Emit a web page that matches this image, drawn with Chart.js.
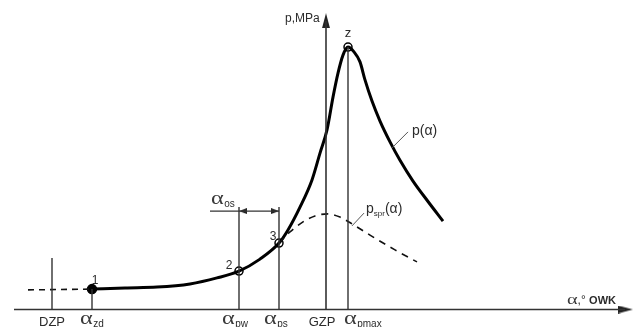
<!DOCTYPE html>
<html>
<head>
<meta charset="utf-8">
<script src="https://cdn.jsdelivr.net/npm/chart.js@4.4.0/dist/chart.umd.min.js"></script>
<style>
  html, body { margin: 0; padding: 0; background: #fff; }
  canvas { display: block; }
</style>
</head>
<body>
<canvas id="chart" width="636" height="327"></canvas>
<script>
// crank angle (deg, GZP = 0) and cylinder pressure (MPa)
const pAlpha = [-58.5, -50.25, -42.25, -34, -27.25, -21.75, -16.5, -11.75, -9.5, -6.5, -3.5, -1.5, 0.25, 1.75, 3, 4.25, 5.5, 7, 8.5, 9.75, 11.5, 13.5, 16, 18.5, 21.75, 25.5, 29.25];
const pValue = [0.51, 0.54, 0.56, 0.64, 0.79, 0.96, 1.26, 1.66, 1.99, 2.56, 3.24, 3.91, 4.49, 5.31, 5.91, 6.36, 6.56, 6.44, 6.19, 5.74, 5.21, 4.71, 4.19, 3.73, 3.21, 2.70, 2.21];

// compression-only pressure p_spr (dashed)
const sprAlpha = [-11.75, -9, -5.75, -2.75, 0.5, 3.5, 6.5, 11, 17.25, 22.75];
const sprValue = [1.66, 1.94, 2.19, 2.34, 2.39, 2.31, 2.14, 1.86, 1.49, 1.19];

// dashed lead-in before ignition
const leadAlpha = [-74.5, -58.5];
const leadValue = [0.49, 0.51];

// characteristic angles (vertical marks) and their heights
const markAlpha = [-68.5, -58.5, -21.75, -11.75, 0, 5.5];
const markTop = [1.29, 0.51, 2.56, 2.56, 7.41, 6.56];

// numbered points 1, 2, 3, z
const ptLabels = ['1', '2', '3', 'z'];
const ptAlpha = [-58.5, -21.75, -11.75, 5.5];
const ptValue = [0.51, 0.96, 1.66, 6.56];

// ignition advance alpha_os (from alpha_pw to alpha_ps)
const osAlpha = [-29, -11.75];
const osValue = 2.46;

// axes extent
const xAxisEnd = [-78, 76.75];
const yAxisEnd = 7.41;
const xMin = -81.5, xMax = 77.5, yMin = -0.4375, yMax = 7.7375;

const INK = '#111';
const AXIS = '#333';

function arrowImg(len, wid) {
  const c = document.createElement('canvas');
  c.width = wid; c.height = len;
  const g = c.getContext('2d');
  g.fillStyle = '#222';
  g.beginPath();
  g.moveTo(wid / 2, 0);
  g.lineTo(wid, len);
  g.lineTo(0, len);
  g.closePath();
  g.fill();
  return c;
}
const bigArrow = arrowImg(15, 8);
const smallArrow = arrowImg(8, 6);

const pts = (xs, ys) => xs.map((x, i) => ({ x, y: ys[i] }));
const seg = (x0, y0, x1, y1) => [{ x: x0, y: y0 }, { x: x1, y: y1 }];

const datasets = [];

// x axis line + arrow
datasets.push({ data: seg(xAxisEnd[0], 0, xAxisEnd[1] - 2, 0), borderColor: AXIS, borderWidth: 1.6, pointRadius: 0 });
datasets.push({ data: [{ x: xAxisEnd[1] - 1.9, y: 0 }], pointStyle: bigArrow, rotation: 90, pointRadius: 8, showLine: false });
// y axis line + arrow
datasets.push({ data: seg(0, 0, 0, yAxisEnd - 0.2), borderColor: AXIS, borderWidth: 1.6, pointRadius: 0 });
datasets.push({ data: [{ x: 0, y: yAxisEnd - 0.19 }], pointStyle: bigArrow, rotation: 0, pointRadius: 8, showLine: false });

// vertical marks (GZP coincides with the p axis)
markAlpha.forEach((a, i) => {
  if (a === 0) return;
  datasets.push({ data: seg(a, 0, a, markTop[i]), borderColor: AXIS, borderWidth: 1.4, pointRadius: 0 });
});

// alpha_os dimension line
datasets.push({ data: seg(osAlpha[0], osValue, osAlpha[1], osValue), borderColor: AXIS, borderWidth: 1.2, pointRadius: 0 });
datasets.push({ data: [{ x: -20.75, y: osValue }], pointStyle: smallArrow, rotation: -90, pointRadius: 4, showLine: false });
datasets.push({ data: [{ x: -12.75, y: osValue }], pointStyle: smallArrow, rotation: 90, pointRadius: 4, showLine: false });

// leader lines for curve labels
datasets.push({ data: seg(16.5, 4.04, 20.5, 4.44), borderColor: '#555', borderWidth: 1, pointRadius: 0 });
datasets.push({ data: seg(6.5, 2.09, 9.5, 2.41), borderColor: '#555', borderWidth: 1, pointRadius: 0 });

// dashed curves
datasets.push({ data: pts(leadAlpha, leadValue), borderColor: INK, borderWidth: 1.6, borderDash: [6, 5], pointRadius: 0 });
datasets.push({ data: pts(sprAlpha, sprValue), borderColor: INK, borderWidth: 1.6, borderDash: [7, 6], pointRadius: 0, cubicInterpolationMode: 'monotone' });

// main pressure curve
datasets.push({ data: pts(pAlpha, pValue), borderColor: '#000', borderWidth: 3, pointRadius: 0, cubicInterpolationMode: 'monotone' });

// points
datasets.push({
  data: pts(ptAlpha, ptValue), showLine: false,
  pointRadius: [4.5, 4, 4, 4],
  pointBackgroundColor: ['#000', '#fff', '#fff', '#fff'],
  pointBorderColor: '#000', pointBorderWidth: 1.5
});

datasets.forEach(d => { d.showLine = d.showLine !== false; d.clip = false; d.fill = false; });

// alpha labels: [subscript, x, y]
const alphaLabels = [
  ['zd', -61.5, -0.36],
  ['pw', -26, -0.36],
  ['ps', -15.5, -0.36],
  ['pmax', 4.5, -0.36],
  ['os', -28.75, 2.64]
];

const labelPlugin = {
  id: 'labels',
  afterDatasetsDraw(chart) {
    const { ctx, scales: { x, y } } = chart;
    const px = v => x.getPixelForValue(v);
    const py = v => y.getPixelForValue(v);
    ctx.save();
    ctx.fillStyle = '#2b2b2b';
    ctx.textBaseline = 'alphabetic';

    const sans = s => `${s}px "Liberation Sans", Arial, sans-serif`;
    // wide alpha, like the Symbol glyph in the original
    const alpha = (xx, yy, size) => {
      ctx.save();
      ctx.font = `${size}px "Liberation Serif", serif`;
      ctx.fillStyle = '#3a3a3a';
      ctx.translate(xx, yy);
      ctx.scale(1.35, 1);
      ctx.fillText('\u03b1', 0, 0);
      const w = ctx.measureText('\u03b1').width * 1.35;
      ctx.restore();
      return w;
    };

    // plain labels
    ctx.font = sans(13);
    ctx.textAlign = 'center';
    ctx.fillText('DZP', px(-68.5), py(-0.41));
    ctx.fillText('GZP', px(-1), py(-0.41));
    ctx.fillText('z', px(5.5), py(6.81));
    ctx.font = sans(12);
    ptLabels.slice(0, 3).forEach((t, i) => {
      const off = [[0.75, 0.13], [-2.5, 0.05], [-1.5, 0.08]][i];
      ctx.fillText(t, px(ptAlpha[i] + off[0]), py(ptValue[i] + off[1]));
    });

    // alpha with subscripts
    ctx.textAlign = 'left';
    alphaLabels.forEach(([s, ax, ay]) => {
      let xx = px(ax), yy = py(ay);
      xx += alpha(xx, yy, 18) + 0.5;
      ctx.font = sans(10);
      ctx.fillText(s, xx, yy + 3);
    });

    // axis titles
    ctx.font = sans(12);
    ctx.fillText('p,MPa', px(-10.25), py(7.19));
    let xx = px(60.25), yy = py(0.14);
    xx += alpha(xx, yy, 15);
    ctx.font = sans(12);
    ctx.fillText(',\u00b0', xx, yy);
    xx += ctx.measureText(',\u00b0 ').width;
    ctx.font = 'bold ' + sans(11);
    ctx.fillText('OWK', xx, yy);

    // curve names
    ctx.font = sans(14);
    ctx.fillText('p(\u03b1)', px(21.5), py(4.36));
    xx = px(10); yy = py(2.41);
    ctx.fillText('p', xx, yy);
    xx += ctx.measureText('p').width;
    ctx.font = sans(8);
    ctx.fillText('spr', xx, yy + 3);
    xx += ctx.measureText('spr').width;
    ctx.font = sans(14);
    ctx.fillText('(\u03b1)', xx, yy);
    ctx.restore();
  }
};

new Chart(document.getElementById('chart'), {
  type: 'scatter',
  data: { datasets },
  options: {
    responsive: false,
    animation: false,
    layout: { padding: 0, autoPadding: false },
    plugins: { legend: { display: false }, tooltip: { enabled: false } },
    scales: {
      x: { type: 'linear', min: xMin, max: xMax, display: false },
      y: { type: 'linear', min: yMin, max: yMax, display: false }
    }
  },
  plugins: [labelPlugin]
});
</script>
</body>
</html>
